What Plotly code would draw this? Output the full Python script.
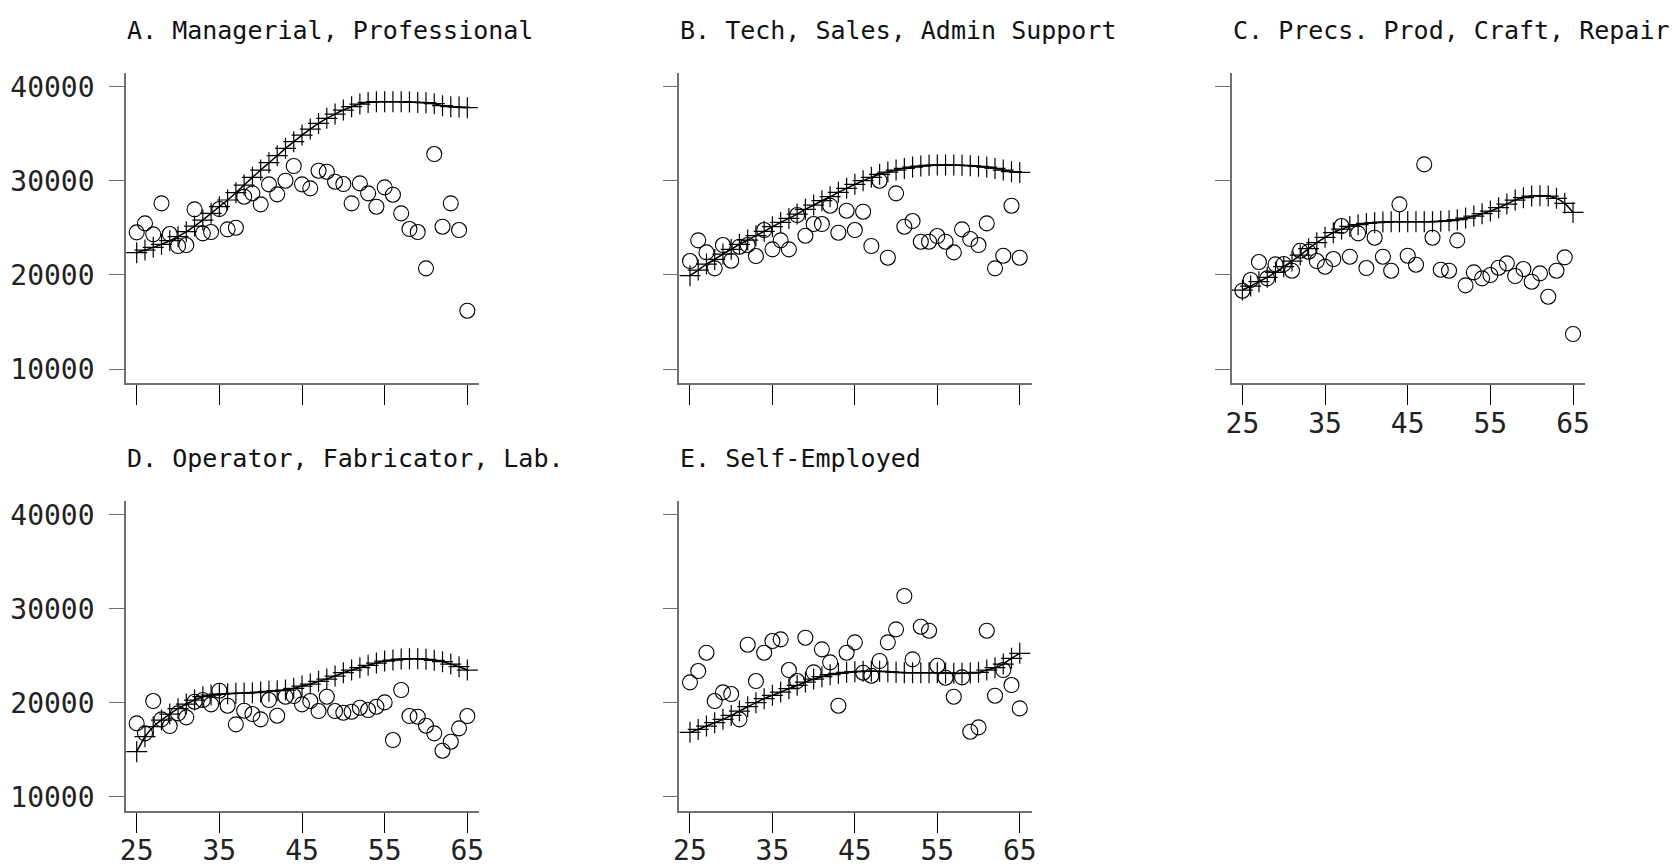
import plotly.graph_objects as go

# Age grid shared by every panel
ages = list(range(25, 66))

# Panel titles
titles = [
    "A. Managerial, Professional",
    "B. Tech, Sales, Admin Support",
    "C. Precs. Prod, Craft, Repair",
    "D. Operator, Fabricator, Lab.",
    "E. Self-Employed",
]

# Observed mean earnings by age (circles)
mgr_obs = [24520, 25476, 24307, 27602, 24343, 23068, 23174, 26964, 24414, 24555,
           27000, 24839, 25016, 28310, 28665, 27496, 29621, 28558, 30010, 31570,
           29621, 29196, 31073, 30967, 29904, 29656, 27602, 29727, 28665, 27248,
           29302, 28523, 26539, 24874, 24555, 20694, 32845, 25122, 27602, 24768,
           16195]
tech_obs = [21473, 23670, 22394, 20694, 23174, 21509, 22997, 23174, 22005, 24768,
            22713, 23670, 22713, 26362, 24165, 25405, 25405, 27354, 24485, 26823,
            24768, 26716, 23068, 30010, 21827, 28665, 25122, 25724, 23528, 23528,
            24130, 23528, 22394, 24839, 23812, 23174, 25476, 20694, 22040, 27354,
            21827]
craft_obs = [18321, 19455, 21367, 19632, 21119, 21155, 20446, 22572, 22466, 21473,
             20871, 21686, 25193, 21934, 24414, 20729, 23953, 21934, 20446, 27496,
             22040, 21084, 31746, 23953, 20552, 20446, 23670, 18888, 20269, 19632,
             19986, 20765, 21226, 19880, 20623, 19277, 20163, 17683, 20446, 21863,
             13716]
oper_obs = [17801, 16738, 20177, 18227, 17518, 18865, 18440, 20106, 20284, 19823,
            21277, 19681, 17695, 19149, 18794, 18227, 20284, 18617, 20638, 20709,
            19823, 20177, 19113, 20638, 19113, 18936, 19043, 19468, 19220, 19574,
            20035, 16028, 21348, 18582, 18511, 17553, 16738, 14894, 15851, 17270,
            18582]
self_obs = [22163, 23369, 25319, 20177, 21099, 20922, 18227, 26170, 22305, 25319,
            26560, 26738, 23475, 22305, 26915, 23227, 25674, 24291, 19681, 25319,
            26418, 23191, 22872, 24433, 26418, 27801, 31348, 24610, 28085, 27660,
            23936, 22660, 20638, 22695, 16915, 17376, 27660, 20745, 23475, 21879,
            19397]

# Fitted earnings profiles (plus markers joined by a line)
mgr_fit = [22359, 22640, 22926, 23245, 23635, 24060, 24590, 25193, 25830, 26540,
           27250, 27960, 28735, 29550, 30365, 31144, 31924, 32667, 33447, 34155,
           34864, 35500, 36100, 36635, 37095, 37520, 37875, 38158, 38335, 38406,
           38406, 38406, 38406, 38370, 38335, 38300, 38193, 37980, 37875, 37840,
           37768]
tech_fit = [19915, 20517, 21155, 21650, 22217, 22713, 23245, 23705, 24165, 24626,
            25122, 25582, 26007, 26468, 26964, 27425, 27885, 28310, 28771, 29196,
            29621, 30010, 30365, 30684, 30932, 31144, 31321, 31463, 31569, 31640,
            31676, 31676, 31676, 31640, 31605, 31534, 31463, 31321, 31144, 30967,
            30896]
craft_fit = [18392, 18817, 19277, 19738, 20269, 20871, 21473, 22111, 22784, 23422,
             23989, 24485, 24874, 25157, 25335, 25476, 25547, 25618, 25653, 25653,
             25653, 25653, 25653, 25653, 25689, 25760, 25866, 26043, 26256, 26504,
             26787, 27141, 27531, 27956, 28204, 28381, 28417, 28381, 28133, 27602,
             26645]
oper_fit = [14787, 16383, 17447, 18156, 18794, 19362, 19858, 20284, 20638, 20816,
            20922, 20957, 20993, 21028, 21064, 21135, 21206, 21277, 21348, 21525,
            21773, 21986, 22270, 22518, 22837, 23191, 23475, 23723, 23972, 24220,
            24433, 24539, 24645, 24681, 24681, 24610, 24504, 24362, 24113, 23830,
            23475]
self_fit = [16844, 17163, 17518, 17872, 18227, 18652, 19113, 19574, 20000, 20426,
            20780, 21135, 21489, 21844, 22199, 22518, 22766, 22979, 23121, 23227,
            23298, 23333, 23333, 23333, 23298, 23227, 23191, 23191, 23191, 23191,
            23191, 23156, 23121, 23121, 23156, 23227, 23475, 23723, 24113, 24716,
            25248]

x_ticks = [25, 35, 45, 55, 65]
y_ticks = [10000, 20000, 30000, 40000]

W, H = 1679, 868

# Panel geometry in pixels: (left, right) columns, (top, bottom) rows
cols = [(126, 479.3), (679.3, 1031.7), (1231.7, 1585)]
rows = [(72.7, 383.3), (500.7, 811)]
title_y = [30, 458]

panels = [
    (mgr_obs, mgr_fit, 0, 0, False, True),
    (tech_obs, tech_fit, 0, 1, False, False),
    (craft_obs, craft_fit, 0, 2, True, False),
    (oper_obs, oper_fit, 1, 0, True, True),
    (self_obs, self_fit, 1, 1, True, False),
]

fig = go.Figure()
tick_font = dict(family="DejaVu Sans Mono", size=28, color="#222222")
title_font = dict(family="DejaVu Sans Mono", size=25, color="#111111")

for i, (obs, fit, r, c, show_x, show_y) in enumerate(panels):
    n = i + 1
    xa = "x" if n == 1 else f"x{n}"
    ya = "y" if n == 1 else f"y{n}"
    fig.add_trace(go.Scatter(
        x=ages, y=obs, xaxis=xa, yaxis=ya, mode="markers",
        marker=dict(symbol="circle-open", size=15, color="black",
                    line=dict(width=1.1, color="black")),
        showlegend=False, hoverinfo="x+y"))
    fig.add_trace(go.Scatter(
        x=ages, y=fit, xaxis=xa, yaxis=ya, mode="lines+markers",
        line=dict(color="black", width=1.5, shape="spline", smoothing=0.6),
        marker=dict(symbol="cross-thin", size=15, color="black",
                    line=dict(width=1.2, color="black")),
        showlegend=False, hoverinfo="x+y"))

    x0, x1 = cols[c]
    top, bot = rows[r]
    key = "" if n == 1 else str(n)
    fig.layout["xaxis" + key] = dict(
        domain=[x0 / W, x1 / W], anchor=ya, range=[23.705, 66.45],
        tickvals=x_ticks, ticktext=[str(v) for v in x_ticks],
        showticklabels=show_x, ticks="outside", ticklen=20, tickwidth=1.4,
        tickcolor="black", showline=True, linecolor="#707070", linewidth=1.6,
        showgrid=False, zeroline=False, tickfont=tick_font, ticklabelstandoff=-6,
        automargin=False,
    )
    fig.layout["yaxis" + key] = dict(
        domain=[1 - bot / H, 1 - top / H], anchor=xa, range=[8480, 41489],
        tickvals=y_ticks, ticktext=[str(v) for v in y_ticks],
        showticklabels=show_y, ticks="outside", ticklen=15, tickwidth=1.4,
        tickcolor="#707070", showline=True, linecolor="#707070", linewidth=1.6,
        showgrid=False, zeroline=False, tickfont=tick_font, ticklabelstandoff=9,
        automargin=False,
    )
    fig.add_annotation(
        text=titles[i], xref="paper", yref="paper", x=x0 / W, y=1 - title_y[r] / H,
        xanchor="left", yanchor="middle", showarrow=False, font=title_font,
        borderpad=0)

fig.update_layout(
    width=W, height=H, margin=dict(l=0, r=0, t=0, b=0, pad=0, autoexpand=False),
    paper_bgcolor="white", plot_bgcolor="white",
)

fig.write_html("out.html")
